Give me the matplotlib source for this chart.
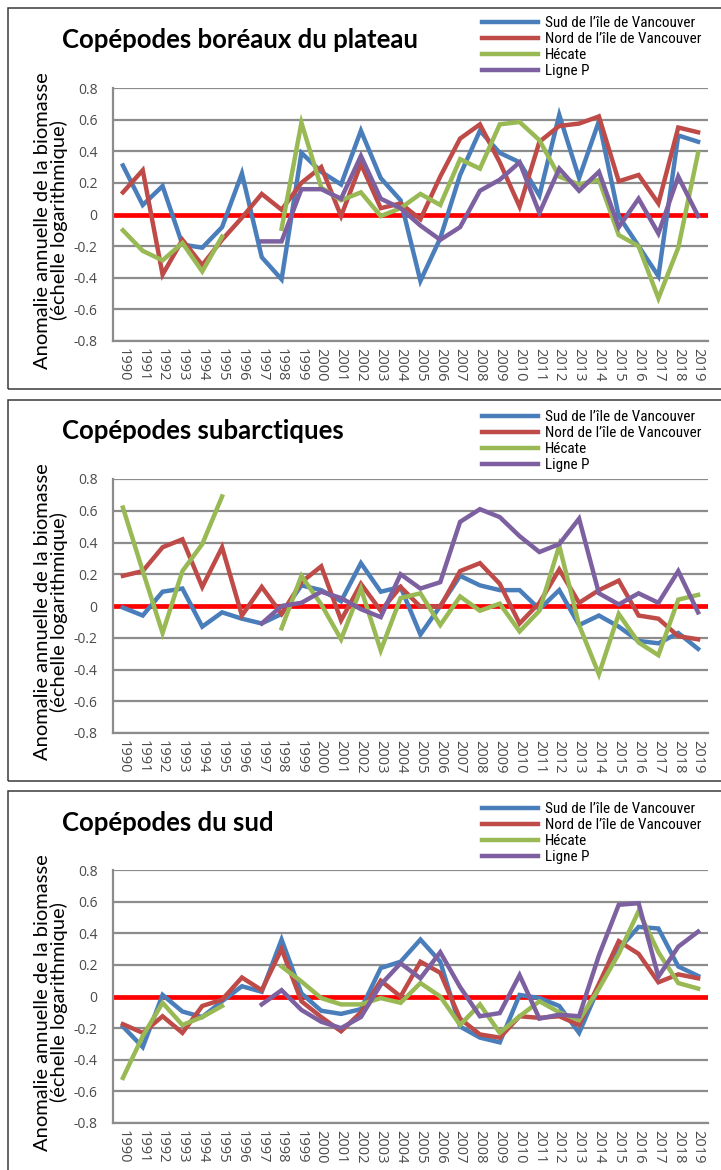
import numpy as np
import matplotlib
matplotlib.use("Agg")
import matplotlib.pyplot as plt
from matplotlib.patches import Rectangle

# ---------------------------------------------------------------- data
years = [str(y) for y in range(1990, 2020)]
series_names = ["Sud de l’île de Vancouver", "Nord de l’île de Vancouver", "Hécate", "Ligne P"]
nan = np.nan

# Copépodes boréaux du plateau
boreal_sud = [0.31, 0.06, 0.18, -0.19, -0.21, -0.08, 0.26, -0.27, -0.41, 0.39,
              0.27, 0.19, 0.53, 0.23, 0.09, -0.42, -0.15, 0.25, 0.53, 0.39,
              0.33, 0.12, 0.63, 0.23, 0.59, -0.01, -0.20, -0.39, 0.50, 0.46]
boreal_nord = [0.14, 0.28, -0.38, -0.16, -0.32, -0.16, -0.02, 0.13, 0.03, 0.20,
               0.30, -0.01, 0.32, 0.04, 0.07, -0.03, 0.24, 0.48, 0.57, 0.33,
               0.05, 0.46, 0.56, 0.575, 0.62, 0.21, 0.25, 0.07, 0.55, 0.52]
boreal_hecate = [-0.10, -0.23, -0.29, -0.18, -0.36, -0.14, nan, nan, -0.09, 0.58,
                 0.17, 0.09, 0.14, -0.01, 0.04, 0.13, 0.06, 0.35, 0.29, 0.57,
                 0.585, 0.47, 0.24, 0.19, 0.22, -0.13, -0.20, -0.53, -0.21, 0.39]
boreal_ligne_p = [nan, nan, nan, nan, nan, nan, nan, -0.17, -0.17, 0.16,
                  0.16, 0.10, 0.37, 0.10, 0.04, -0.07, -0.16, -0.08, 0.15, 0.22,
                  0.33, 0.01, 0.29, 0.15, 0.27, -0.08, 0.10, -0.12, 0.24, -0.01]

# Copépodes subarctiques
subarc_sud = [-0.01, -0.06, 0.09, 0.11, -0.13, -0.04, -0.08, -0.11, -0.05, 0.13,
              0.10, 0.03, 0.27, 0.09, 0.12, -0.18, 0.0, 0.19, 0.13, 0.10,
              0.10, -0.02, 0.10, -0.12, -0.06, -0.13, -0.22, -0.235, -0.17, -0.27]
subarc_nord = [0.19, 0.22, 0.37, 0.42, 0.12, 0.37, -0.06, 0.12, -0.05, 0.15,
               0.25, -0.09, 0.14, -0.03, 0.12, -0.005, -0.005, 0.22, 0.27, 0.14,
               -0.11, 0.02, 0.23, 0.02, 0.10, 0.16, -0.06, -0.08, -0.19, -0.21]
subarc_hecate = [0.62, 0.22, -0.17, 0.22, 0.39, 0.69, nan, nan, -0.14, 0.19,
                 0.01, -0.21, 0.11, -0.28, 0.05, 0.08, -0.12, 0.06, -0.03, 0.015,
                 -0.16, -0.03, 0.38, -0.12, -0.43, -0.05, -0.23, -0.31, 0.04, 0.07]
subarc_ligne_p = [nan, nan, nan, nan, nan, nan, nan, -0.11, 0.0, 0.02,
                  0.09, 0.05, -0.02, -0.07, 0.20, 0.11, 0.15, 0.53, 0.61, 0.56,
                  0.44, 0.34, 0.39, 0.55, 0.08, 0.01, 0.08, 0.02, 0.22, -0.04]

# Copépodes du sud
sud_sud = [-0.19, -0.32, 0.01, -0.095, -0.13, -0.03, 0.065, 0.03, 0.36, 0.02,
           -0.09, -0.11, -0.08, 0.18, 0.22, 0.36, 0.22, -0.19, -0.26, -0.29,
           0.01, -0.01, -0.06, -0.23, 0.06, 0.30, 0.44, 0.43, 0.19, 0.13]
sud_nord = [-0.175, -0.23, -0.125, -0.23, -0.06, -0.02, 0.12, 0.04, 0.30, -0.03,
            -0.13, -0.22, -0.10, 0.10, 0.0, 0.22, 0.15, -0.14, -0.24, -0.26,
            -0.125, -0.135, -0.125, -0.18, 0.08, 0.35, 0.27, 0.09, 0.14, 0.115]
sud_hecate = [-0.515, -0.25, -0.04, -0.18, -0.13, -0.06, nan, nan, 0.19, 0.095,
              -0.01, -0.05, -0.05, -0.01, -0.04, 0.085, 0.0, -0.18, -0.05, -0.23,
              -0.125, -0.03, -0.10, -0.15, 0.05, 0.27, 0.54, 0.28, 0.085, 0.05]
sud_ligne_p = [nan, nan, nan, nan, nan, nan, nan, -0.05, 0.04, -0.085,
               -0.16, -0.20, -0.13, 0.075, 0.21, 0.115, 0.28, 0.06, -0.125, -0.105,
               0.135, -0.14, -0.115, -0.125, 0.26, 0.58, 0.59, 0.125, 0.315, 0.41]

panel_titles = ["Copépodes boréaux du plateau", "Copépodes subarctiques", "Copépodes du sud"]
panel_series = [
    [boreal_sud, boreal_nord, boreal_hecate, boreal_ligne_p],
    [subarc_sud, subarc_nord, subarc_hecate, subarc_ligne_p],
    [sud_sud, sud_nord, sud_hecate, sud_ligne_p],
]
y_ticks = [0.8, 0.6, 0.4, 0.2, 0.0, -0.2, -0.4, -0.6, -0.8]
y_tick_labels = ["0.8", "0.6", "0.4", "0.2", "0", "-0.2", "-0.4", "-0.6", "-0.8"]
y_label = "Anomalie annuelle de la biomasse\n(échelle logarithmique)"

# ---------------------------------------------------------------- style
colors = ["#4A7EBB", "#BE4B48", "#98B954", "#7D60A0"]
grid_color = "#8C8C8C"
W, H = 721, 1170
PX = 100 / 72  # pixels per point
legend_family = ["Roboto Condensed", "Lato", "DejaVu Sans"]
legend_text_width = 156  # px available for the longest legend entry
legend_pitch = 16        # px between legend rows

fig = plt.figure(figsize=(W / 100, H / 100), dpi=100)
fig.patch.set_facecolor("white")


def fx(x):
    return x / W


def fy(y):
    return 1 - y / H


# size the legend font so the longest entry fits right of the plot title
renderer = fig.canvas.get_renderer()
probe = fig.text(0, 0, max(series_names, key=len), family=legend_family, fontsize=11)
probe_w = probe.get_window_extent(renderer).width
probe.remove()
legend_size = min(11.0, 11.0 * legend_text_width / probe_w)
probe = fig.text(0, 0, max(series_names, key=len), family=legend_family, fontsize=legend_size)
row_h = probe.get_window_extent(renderer).height
probe.remove()
legend_spacing = max(0.0, (legend_pitch - row_h) / (legend_size * PX))

# panel layout in pixels: (box top, box bottom, axes top, axes bottom, title y, first legend row)
layouts = [
    (8, 389, 88, 341, 40, 23),
    (400, 781, 479, 733, 431, 417),
    (791, 1180, 870, 1123, 823, 809),
]

for (box_t, box_b, ax_t, ax_b, title_y, leg_row), title, data in zip(layouts, panel_titles, panel_series):
    fig.add_artist(Rectangle((fx(8), fy(box_b)), fx(730) - fx(8), fy(box_t) - fy(box_b),
                             transform=fig.transFigure, fill=False,
                             edgecolor="#3A3A3A", linewidth=1.1))

    ax = fig.add_axes([fx(113), fy(ax_b), fx(708) - fx(113), fy(ax_t) - fy(ax_b)])
    x = np.arange(len(years))
    ax.axhline(0, color="#FF0000", linewidth=3.4, zorder=2)
    handles = []
    for vals, c, name in zip(data, colors, series_names):
        (ln,) = ax.plot(x, np.array(vals, dtype=float), color=c, linewidth=3.2,
                        solid_joinstyle="miter", label=name, zorder=3)
        handles.append(ln)

    ax.set_xlim(-0.5, len(years) - 0.5)
    ax.set_ylim(-0.8, 0.8)
    ax.set_yticks(y_ticks)
    ax.set_yticklabels(y_tick_labels)
    ax.set_xticks(x)
    ax.set_xticklabels(years, rotation=270, ha="center", va="top")
    ax.yaxis.grid(True, color=grid_color, linewidth=1.6, zorder=1)
    ax.set_axisbelow(True)
    for s in ("top", "right"):
        ax.spines[s].set_visible(False)
    for s in ("left", "bottom"):
        ax.spines[s].set_color(grid_color)
        ax.spines[s].set_linewidth(1.6)
    ax.tick_params(axis="y", length=0, pad=11, labelsize=10, labelcolor="#4A4A4A")
    ax.tick_params(axis="x", length=0, pad=5, labelsize=10.5, labelcolor="#4A4A4A")
    for lab in ax.get_xticklabels() + ax.get_yticklabels():
        lab.set_family(["Open Sans", "DejaVu Sans"])

    fig.text(fx(62), fy(title_y), title, fontsize=18.5, fontweight="bold",
             family=["Lato", "DejaVu Sans"], ha="left", va="center", color="black")

    fig.text(fx(51), fy((ax_t + ax_b) / 2 + 6), y_label, rotation=90, fontsize=14.5,
             family=["Lato", "DejaVu Sans"], ha="center", va="center",
             multialignment="center", linespacing=0.92, color="black")

    leg = ax.legend(handles=handles, loc="upper left",
                    bbox_to_anchor=(fx(482), fy(leg_row - row_h / 2)),
                    bbox_transform=fig.transFigure,
                    frameon=False, handlelength=56 / (legend_size * PX),
                    handletextpad=7 / (legend_size * PX),
                    labelspacing=legend_spacing, borderpad=0.0, borderaxespad=0.0,
                    prop={"family": legend_family, "size": legend_size})
    for t in leg.get_texts():
        t.set_color("black")

fig.savefig("out.png", dpi=100, facecolor="white")
